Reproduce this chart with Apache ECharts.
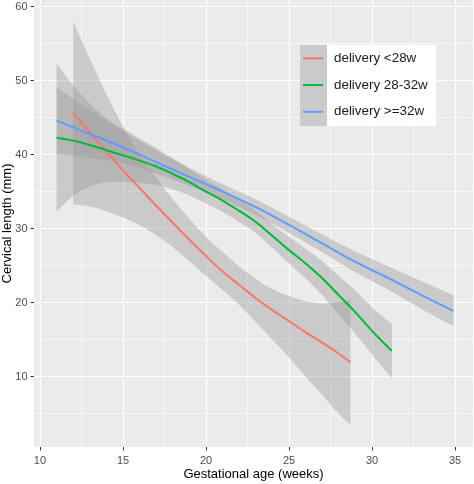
<!DOCTYPE html>
<html>
<head>
<meta charset="utf-8">
<title>Cervical length by gestational age</title>
<script src="https://cdn.jsdelivr.net/npm/echarts@6.0.0/dist/echarts.min.js"></script>
<style>
  html, body { margin: 0; padding: 0; background: #fff; }
  #main { width: 474px; height: 484px; }
</style>
</head>
<body>
<div id="main"></div>
<script>
// tick values
var xMajor = [10, 15, 20, 25, 30, 35];
var xMinor = [12.5, 17.5, 22.5, 27.5, 32.5];
var yMajor = [10, 20, 30, 40, 50, 60];
var yMinor = [5, 15, 25, 35, 45, 55];

var groupNames = ['delivery <28w', 'delivery 28-32w', 'delivery >=32w'];
var groupColors = ['#F8766D', '#00BA38', '#619CFF'];

// delivery <28w : fitted line and confidence band
var redX = [12, 13, 14, 15, 16, 17, 18, 19, 20, 21, 22, 23, 24, 25, 26, 27, 28, 28.7];
var redFit = [45.6, 43.0, 40.4, 37.9, 35.5, 33.1, 30.8, 28.5, 26.3, 24.2, 22.4, 20.6, 19.0, 17.5, 16.0, 14.6, 13.1, 11.95];
var redHi = [58.0, 53.0, 48.2, 43.8, 40.0, 36.9, 34.0, 31.3, 28.9, 26.8, 24.9, 23.2, 21.8, 20.9, 20.2, 19.9, 20.1, 20.4];
var redLo = [33.3, 33.0, 32.4, 31.5, 30.5, 29.1, 27.5, 25.6, 23.6, 21.7, 19.7, 17.4, 15.0, 12.6, 10.0, 7.5, 5.0, 3.5];

// delivery 28-32w
var greenX = [11, 12, 13, 14, 15, 16, 17, 18, 19, 20, 21, 22, 23, 24, 25, 26, 27, 28, 29, 30, 31, 31.2];
var greenFit = [42.3, 41.9, 41.3, 40.6, 39.9, 39.2, 38.4, 37.4, 36.3, 35.0, 33.8, 32.4, 30.9, 29.0, 27.1, 25.3, 23.3, 21.0, 18.7, 16.2, 13.9, 13.5];
var greenHi = [52.3, 49.4, 46.9, 44.9, 43.5, 42.2, 40.9, 39.5, 38.1, 36.6, 35.3, 33.9, 32.4, 30.6, 28.9, 27.3, 25.6, 23.6, 21.6, 19.4, 17.5, 17.2];
var greenLo = [32.3, 34.4, 35.7, 36.3, 36.3, 36.2, 35.9, 35.3, 34.5, 33.4, 32.3, 30.9, 29.4, 27.4, 25.3, 23.3, 21.0, 18.4, 15.8, 13.0, 10.3, 9.8];

// delivery >=32w
var blueX = [11, 13, 15, 17, 19, 21, 23, 25, 27, 29, 31, 33, 34.9];
var blueFit = [44.6, 42.8, 41.0, 39.0, 37.0, 35.0, 32.9, 30.5, 28.0, 25.5, 23.3, 21.0, 18.9];
var blueHi = [49.1, 46.0, 43.2, 40.6, 38.2, 36.0, 33.95, 31.6, 29.2, 26.9, 24.9, 22.9, 21.0];
var blueLo = [40.1, 39.6, 38.8, 37.4, 35.8, 34.0, 31.85, 29.4, 26.8, 24.1, 21.7, 19.1, 16.8];

var groups = [
    { x: redX, fit: redFit, hi: redHi, lo: redLo },
    { x: greenX, fit: greenFit, hi: greenHi, lo: greenLo },
    { x: blueX, fit: blueFit, hi: blueHi, lo: blueLo }
];

var FONT = 'Liberation Sans, Arial, sans-serif';
var bandColor = 'rgba(153,153,153,0.4)';

// catmull-rom through pixel points -> svg path commands (no leading M)
function curveTo(pts) {
    var d = '';
    for (var i = 0; i < pts.length - 1; i++) {
        var p0 = pts[i - 1] || pts[i], p1 = pts[i], p2 = pts[i + 1], p3 = pts[i + 2] || pts[i + 1];
        var c1x = p1[0] + (p2[0] - p0[0]) / 6, c1y = p1[1] + (p2[1] - p0[1]) / 6;
        var c2x = p2[0] - (p3[0] - p1[0]) / 6, c2y = p2[1] - (p3[1] - p1[1]) / 6;
        d += ' C' + c1x + ',' + c1y + ' ' + c2x + ',' + c2y + ' ' + p2[0] + ',' + p2[1];
    }
    return d;
}

// ribbon drawn as one closed path, coordinates from the chart's own axes
function renderBand(params, api) {
    if (params.dataIndexInside !== 0) return null;
    var n = params.dataInsideLength;
    var top = [], bottom = [];
    for (var i = 0; i < n; i++) {
        top.push(api.coord([api.value(0, i), api.value(2, i)]));
        bottom.push(api.coord([api.value(0, i), api.value(1, i)]));
    }
    bottom.reverse();
    var d = 'M' + top[0][0] + ',' + top[0][1] + curveTo(top) +
        ' L' + bottom[0][0] + ',' + bottom[0][1] + curveTo(bottom) + ' Z';
    return {
        type: 'path',
        shape: { pathData: d },
        style: { fill: bandColor }
    };
}

// ribbon then line, one group after another like geom_smooth
var series = [];
groups.forEach(function (g, k) {
    series.push({
        name: 'band' + k, type: 'custom', silent: true,
        renderItem: renderBand,
        encode: { x: 0, y: [1, 2] },
        data: g.x.map(function (x, i) { return [x, g.lo[i], g.hi[i]]; })
    });
    series.push({
        name: groupNames[k], type: 'line',
        data: g.x.map(function (x, i) { return [x, g.fit[i]]; }),
        symbol: 'none', smooth: 0.4, color: groupColors[k],
        lineStyle: { width: 2, color: groupColors[k] }
    });
});

var myChart = echarts.init(document.getElementById('main'));

var option = {
    animation: false,
    grid: {
        left: 34, right: 1, top: 0, bottom: 37,
        outerBoundsMode: 'none', containLabel: false,
        show: true, backgroundColor: '#EBEBEB', borderWidth: 0
    },
    xAxis: [{
        type: 'value', min: 9.64, max: 36.08,
        name: 'Gestational age (weeks)', nameLocation: 'middle', nameGap: 21, nameMoveOverlap: false,
        nameTextStyle: { fontFamily: FONT, fontSize: 13, color: '#000' },
        axisLine: { show: false },
        axisTick: { show: true, length: 3.5, customValues: xMajor, lineStyle: { color: '#333', width: 1 } },
        axisLabel: { customValues: xMajor, margin: 8, fontFamily: FONT, fontSize: 11, color: '#4D4D4D' },
        splitLine: { show: true, lineStyle: { color: '#fff', width: 1.2 } }
    }, {
        type: 'value', min: 9.64, max: 36.08, position: 'bottom',
        axisLine: { show: false },
        axisTick: { show: false, customValues: xMinor },
        axisLabel: { show: false, customValues: xMinor },
        splitLine: { show: true, lineStyle: { color: '#fff', width: 0.6 } }
    }],
    yAxis: [{
        type: 'value', min: 0.5, max: 60.9,
        name: 'Cervical length (mm)', nameLocation: 'middle', nameGap: 20, nameMoveOverlap: false,
        nameTextStyle: { fontFamily: FONT, fontSize: 13, color: '#000' },
        axisLine: { show: false },
        axisTick: { show: true, length: 3.5, customValues: yMajor, lineStyle: { color: '#333', width: 1 } },
        axisLabel: { customValues: yMajor, margin: 6.5, fontFamily: FONT, fontSize: 11, color: '#4D4D4D' },
        splitLine: { show: true, lineStyle: { color: '#fff', width: 1.2 } }
    }, {
        type: 'value', min: 0.5, max: 60.9, position: 'left',
        axisLine: { show: false },
        axisTick: { show: false, customValues: yMinor },
        axisLabel: { show: false, customValues: yMinor },
        splitLine: { show: true, lineStyle: { color: '#fff', width: 0.6 } }
    }],
    legend: {
        data: groupNames,
        orient: 'vertical',
        left: 303, top: 45,
        padding: 0, itemGap: 0,
        itemWidth: 20, itemHeight: 2,
        icon: 'rect',
        z: 200,
        textStyle: { fontFamily: FONT, fontSize: 13.4, color: '#1A1A1A', lineHeight: 26.7, padding: [0, 0, 0, 6] }
    },
    graphic: [
        { type: 'rect', z: 100, shape: { x: 300, y: 45, width: 136, height: 81 }, style: { fill: '#fff' } },
        { type: 'rect', z: 101, shape: { x: 300, y: 45, width: 27, height: 81 }, style: { fill: '#CBCBCB' } }
    ],
    series: series
};

myChart.setOption(option);
</script>
</body>
</html>
